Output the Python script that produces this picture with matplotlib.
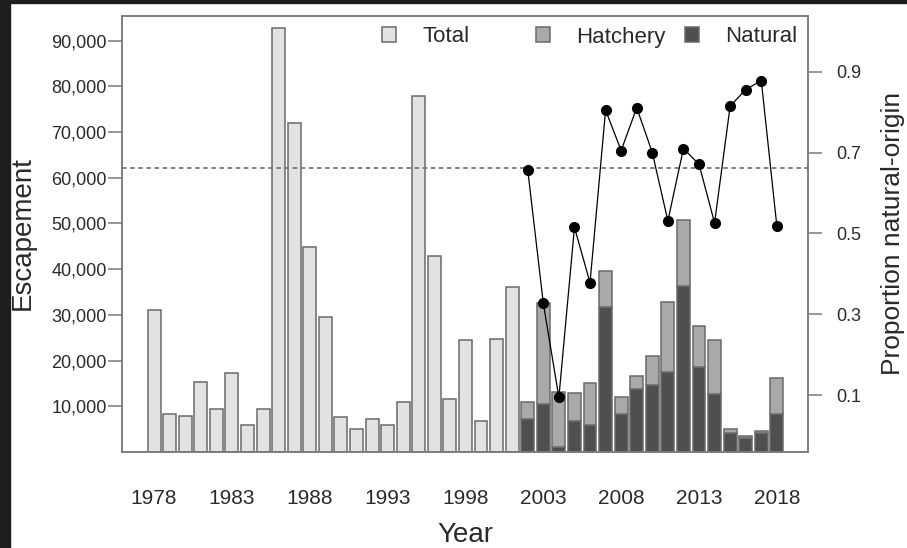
import numpy as np
import matplotlib
matplotlib.use("Agg")
import matplotlib.pyplot as plt
from matplotlib.patches import Patch, Rectangle
from matplotlib.ticker import FuncFormatter

plt.rcParams['font.family'] = ['Liberation Sans', 'DejaVu Sans']

# escapement (fish) before marking began, 1978-2001
early_years = list(range(1978, 2002))
early_total = [31100, 8300, 7800, 15300, 9400, 17300, 5800, 9400, 92700, 72000,
               44800, 29500, 7700, 5000, 7200, 6000, 10900, 77900, 42800, 11500,
               24500, 6700, 24800, 36200]

# split by origin, 2002-2018
late_years = list(range(2002, 2019))
natural = [7200, 10500, 1000, 6700, 5800, 31700, 8300, 13700, 14700, 17400,
           36400, 18500, 12800, 4200, 3100, 4100, 8300]
hatchery = [3700, 22100, 12100, 6200, 9400, 7800, 3700, 3000, 6300, 15400,
            14400, 9000, 11800, 800, 500, 400, 7900]
prop_natural = [0.657, 0.327, 0.094, 0.515, 0.378, 0.805, 0.705, 0.811, 0.700,
                0.531, 0.710, 0.671, 0.526, 0.815, 0.856, 0.878, 0.518]
prop_goal = 0.663

year_ticks = list(range(1978, 2019, 5))
esc_ticks = list(range(10000, 90001, 10000))
prop_ticks = [0.1, 0.3, 0.5, 0.7, 0.9]

c_total = '#e2e2e2'
c_hatch = '#a9a9a9'
c_nat = '#4f4f4f'
c_edge = '#6a6a6a'
c_axis = '#7a7a7a'
txt = '#2a2a2a'

fig = plt.figure(figsize=(9.07, 5.48), dpi=100)
ax = fig.add_axes([122/907, 1-452/548, (808-122)/907, (452-16)/548])

w = 0.83
ax.bar(early_years, early_total, width=w, color=c_total, edgecolor=c_edge, linewidth=1.1)
ax.bar(late_years, natural, width=w, color=c_nat, edgecolor=c_edge, linewidth=1.1)
ax.bar(late_years, hatchery, bottom=natural, width=w, color=c_hatch,
       edgecolor=c_edge, linewidth=1.1)

ax.set_xlim(1975.94, 2020.0)
ax.set_ylim(0, 95400)
ax.set_xticks(year_ticks)
ax.set_xticklabels([str(y) for y in year_ticks])
ax.set_yticks(esc_ticks)
ax.yaxis.set_major_formatter(FuncFormatter(lambda v, p: f"{int(v):,}"))
ax.tick_params(axis='x', length=0, pad=27, labelsize=15, labelcolor=txt)
ax.tick_params(axis='y', length=10, width=1.1, color=c_axis, pad=1,
               labelsize=13, labelcolor=txt)
for s in ax.spines.values():
    s.set_color(c_axis)
    s.set_linewidth(1.1)

ax2 = ax.twinx()
ax2.set_ylim(-0.041, 1.038)
ax2.axhline(prop_goal, color='#777777', lw=1.3, dashes=(2.5, 2))
ax2.plot(late_years, prop_natural, color='black', lw=0.9, marker='o', ms=7,
         mfc='black', mec='black')
ax2.set_yticks(prop_ticks)
ax2.set_yticklabels([f"{t:.1f}" for t in prop_ticks])
ax2.tick_params(axis='y', length=10, width=1.1, color=c_axis, pad=10,
                labelsize=13, labelcolor=txt)
for s in ax2.spines.values():
    s.set_color(c_axis)
    s.set_linewidth(1.1)

fig.text(23/907, 1-233/548, 'Escapement', rotation=90, ha='center', va='center',
         fontsize=20, color=txt)
fig.text(465/907, 1-535/548, 'Year', ha='center', va='center', fontsize=20, color=txt)
fig.text(893/907, 1-233/548, 'Proportion natural-origin', rotation=90,
         ha='center', va='center', fontsize=19, color=txt)

# legend entries spread across the top of the panel
entries = [('Total', c_total, 382), ('Hatchery', c_hatch, 536), ('Natural', c_nat, 685)]
for label, col, xpix in entries:
    fig.legend(handles=[Patch(facecolor=col, edgecolor=c_edge, linewidth=1.1, label=label)],
               loc='center left', bbox_to_anchor=(xpix/907, 1-37/548),
               frameon=False, fontsize=16, handlelength=0.62, handleheight=0.62,
               handletextpad=1.2, borderpad=0, borderaxespad=0, labelcolor=txt)

# dark frame strips along the left and top edges
fig.patches.append(Rectangle((0, 0), 10/907, 1, transform=fig.transFigure,
                             color='#1e1e1e', zorder=0))
fig.patches.append(Rectangle((0, 1-3/548), 1, 3/548, transform=fig.transFigure,
                             color='#1e1e1e', zorder=0))

fig.savefig('out.png', dpi=100)
